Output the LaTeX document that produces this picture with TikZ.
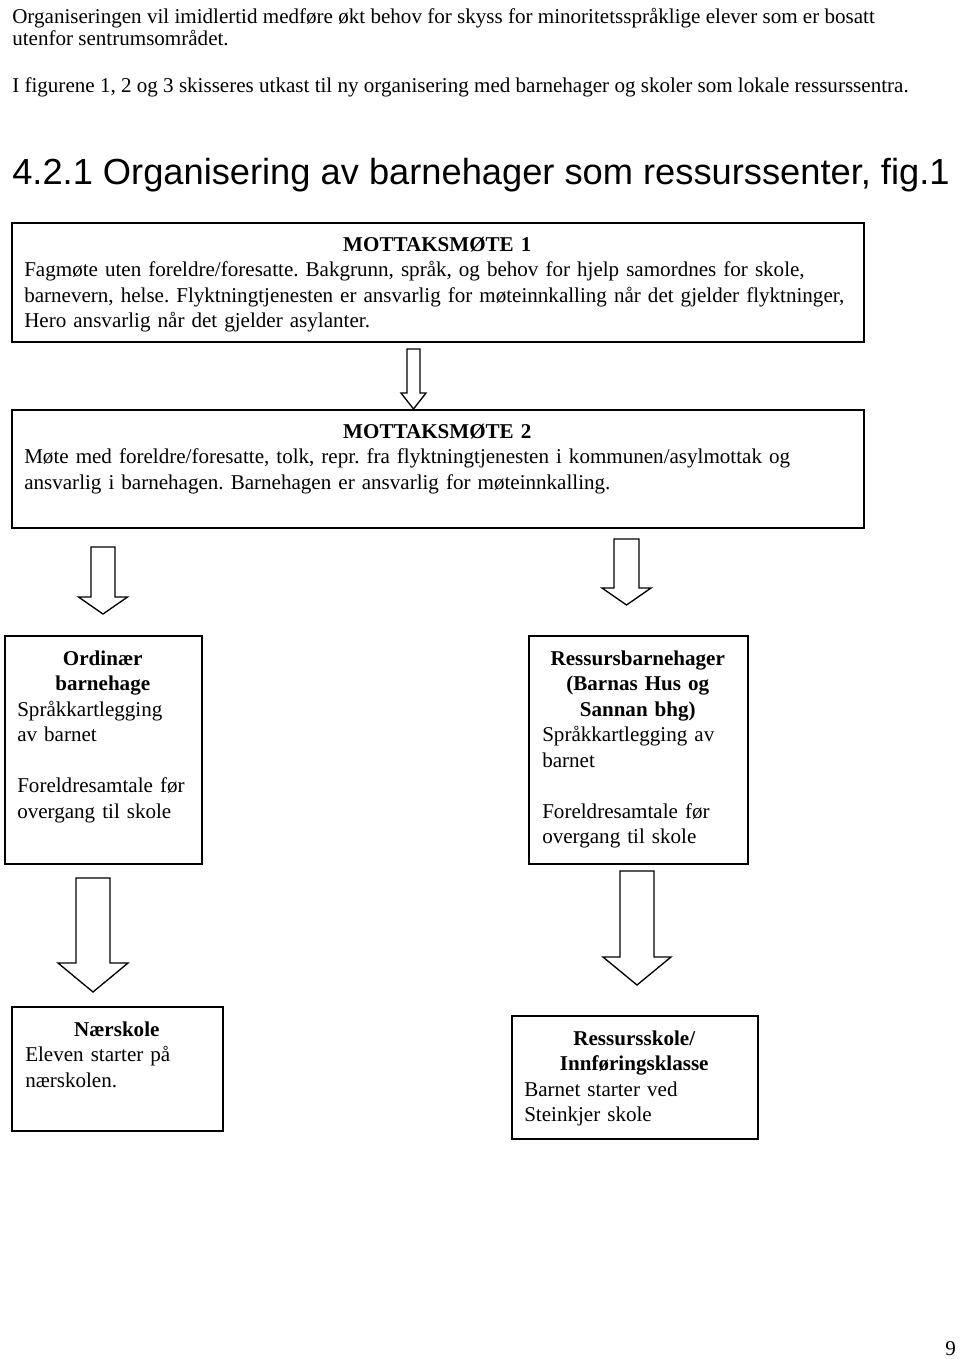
\documentclass[tikz,border=0pt]{standalone}
\usepackage{fontspec}
\setmainfont{Liberation Serif}
\newfontfamily\arialf{Liberation Sans}
\begin{document}
\begin{tikzpicture}[x=0.75pt,y=-0.75pt,
  box/.style={draw=black,line width=1.3pt,inner sep=0pt,anchor=north west},
  btext/.style={anchor=north west,inner sep=0pt,align=left,font=\fontsize{15.8}{19.1}\selectfont\frenchspacing},
  ptext/.style={anchor=base west,inner sep=0pt,font=\fontsize{15.8}{16.5}\selectfont\frenchspacing},
  barrow/.style={draw=black,line width=1pt,fill=white,line join=miter}]
\useasboundingbox[fill=white] (0,0) rectangle (960,1359);
\newcommand\blockarrow[6]{%
  \draw[barrow] ({#1-#5},#2) -- ({#1+#5},#2) -- ({#1+#5},#3) -- ({#1+#6},#3)
     -- (#1,#4) -- ({#1-#6},#3) -- ({#1-#5},#3) -- cycle;}
% top paragraphs
\node[ptext] (p1) at (12,24) {Organiseringen vil imidlertid medføre økt behov for skyss for minoritetsspråklige elever som er bosatt};
\node[ptext] (p2) at (12,46) {utenfor sentrumsområdet.};
\node[ptext] (p3) at (12,93) {I figurene 1, 2 og 3 skisseres utkast til ny organisering med barnehager og skoler som lokale ressurssentra.};
\node[anchor=base west,inner sep=0pt,font=\arialf\fontsize{27.2}{30}\selectfont] (title) at (12,185) {4.2.1 Organisering av barnehager som ressurssenter, fig.1};
% boxes
\node[box,minimum width=852*0.75pt,minimum height=119*0.75pt] (b1) at (11,222) {};
\node[box,minimum width=852*0.75pt,minimum height=118*0.75pt] (b2) at (11,409) {};
\node[box,minimum width=197*0.75pt,minimum height=228*0.75pt] (b3) at (4,635) {};
\node[box,minimum width=219*0.75pt,minimum height=228*0.75pt] (b4) at (528,635) {};
\node[box,minimum width=211*0.75pt,minimum height=124*0.75pt] (b5) at (11,1006) {};
\node[box,minimum width=246*0.75pt,minimum height=123*0.75pt] (b6) at (511,1015) {};
% box texts (first baseline = top + 17.8px)
\node[btext,text width=826*0.75pt] (t1) at (24,233.2) {\strut{\centering\bfseries MOTTAKSMØTE 1\par}%
Fagmøte uten foreldre/foresatte. Bakgrunn, språk, og behov for hjelp samordnes for skole,\\
barnevern, helse. Flyktningtjenesten er ansvarlig for møteinnkalling når det gjelder flyktninger,\\
Hero ansvarlig når det gjelder asylanter.};
\node[btext,text width=826*0.75pt] (t2) at (24,420.2) {\strut{\centering\bfseries MOTTAKSMØTE 2\par}%
Møte med foreldre/foresatte, tolk, repr. fra flyktningtjenesten i kommunen/asylmottak og\\
ansvarlig i barnehagen. Barnehagen er ansvarlig for møteinnkalling.};
\node[btext,text width=171*0.75pt] (t3) at (17,647.2) {\strut{\centering\bfseries Ordinær\\ barnehage\par}%
Språkkartlegging\\ av barnet\\ \mbox{}\\ Foreldresamtale før\\ overgang til skole};
\node[btext,text width=191*0.75pt] (t4) at (542,647.2) {\strut{\centering\bfseries Ressursbarnehager\\ (Barnas Hus og\\ Sannan bhg)\par}%
Språkkartlegging av\\ barnet\\ \mbox{}\\ Foreldresamtale før\\ overgang til skole};
\node[btext,text width=183*0.75pt] (t5) at (25,1018.2) {\strut{\centering\bfseries Nærskole\par}%
Eleven starter på\\ nærskolen.};
\node[btext,text width=220*0.75pt] (t6) at (524,1027.2) {\strut{\centering\bfseries Ressursskole/\\ Innføringsklasse\par}%
Barnet starter ved\\ Steinkjer skole};
% block arrows
\blockarrow{413.5}{349}{393}{409}{6.5}{12.5}
\blockarrow{103}{547}{597}{614}{12}{24.5}
\blockarrow{626.5}{539}{588}{605}{12.5}{24.5}
\blockarrow{93}{878}{963}{992}{17}{35}
\blockarrow{637}{871}{957}{985}{17}{34}
% page number
\node[ptext] (pg) at (945,1355) {9};
\end{tikzpicture}
\end{document}
